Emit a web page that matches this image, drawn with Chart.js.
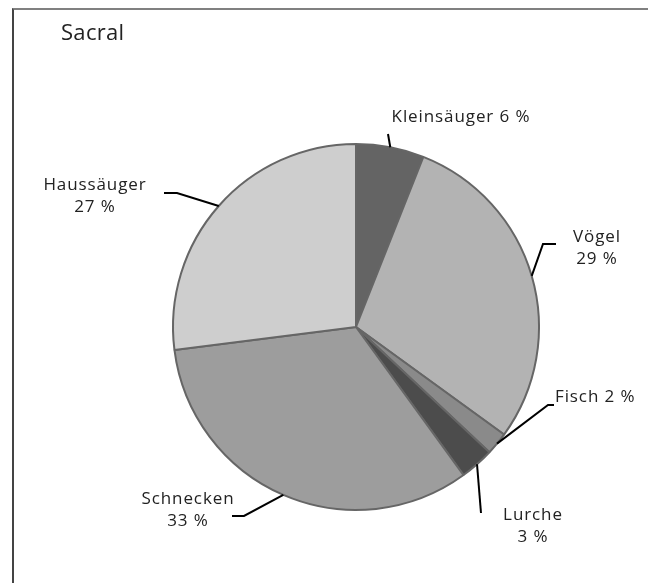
<!DOCTYPE html>
<html>
<head>
<meta charset="utf-8">
<script src="https://cdn.jsdelivr.net/npm/chart.js@4"></script>
<style>
  html, body { margin: 0; padding: 0; background: #fff; }
  #wrap { position: relative; width: 648px; height: 583px; }
  #frame { position: absolute; left: 12px; top: 8px; right: 0; bottom: 0;
           border-left: 2px solid #444; border-top: 2px solid #808080; }
  canvas { position: absolute; left: 0; top: 0; }
</style>
</head>
<body>
<div id="wrap">
  <div id="frame"></div>
  <canvas id="chart" width="648" height="583"></canvas>
</div>
<script>
// Data
const title = 'Sacral';
const categories = ['Kleinsäuger', 'Vögel', 'Fisch', 'Lurche', 'Schnecken', 'Haussäuger'];
const shares = [6, 29, 2, 3, 33, 27];
const colors = ['#646464', '#b3b3b3', '#8a8a8a', '#4c4c4c', '#9d9d9d', '#cecece'];

// Label layout: elbow point, end of leader, text anchor
const labelLayout = [
  { elbow: null, end: [388, 134], text: [461, 117], align: 'center', oneLine: true },
  { elbow: [543, 244], end: [556, 244], text: [597, 237], align: 'center' },
  { elbow: [548, 405], end: [554, 405], text: [555, 397], align: 'left', oneLine: true },
  { elbow: null, end: [481, 513], text: [533, 515], align: 'center' },
  { elbow: [244, 516], end: [232, 516], text: [188, 499], align: 'center' },
  { elbow: [177, 193], end: [164, 193], text: [95, 185], align: 'center' }
];

const labelPlugin = {
  id: 'pieLabels',
  afterDraw(chart) {
    const ctx = chart.ctx;
    const meta = chart.getDatasetMeta(0);
    ctx.save();

    // title
    ctx.fillStyle = '#222';
    ctx.font = '22px "Open Sans", sans-serif';
    ctx.letterSpacing = '0.3px';
    ctx.textAlign = 'left';
    ctx.textBaseline = 'middle';
    ctx.fillText(title, 61, 34);

    meta.data.forEach((arc, i) => {
      const mid = (arc.startAngle + arc.endAngle) / 2;
      const x0 = arc.x + Math.cos(mid) * arc.outerRadius;
      const y0 = arc.y + Math.sin(mid) * arc.outerRadius;
      const lay = labelLayout[i];

      ctx.strokeStyle = '#000';
      ctx.lineWidth = 2;
      ctx.beginPath();
      ctx.moveTo(x0, y0);
      if (lay.elbow) ctx.lineTo(lay.elbow[0], lay.elbow[1]);
      ctx.lineTo(lay.end[0], lay.end[1]);
      ctx.stroke();

      ctx.fillStyle = '#222';
      ctx.font = '17px "Open Sans", sans-serif';
      ctx.letterSpacing = '0.9px';
      ctx.textAlign = lay.align;
      const pct = shares[i] + ' %';
      if (lay.oneLine) {
        ctx.fillText(categories[i] + ' ' + pct, lay.text[0], lay.text[1]);
      } else {
        ctx.fillText(categories[i], lay.text[0], lay.text[1]);
        ctx.fillText(pct, lay.text[0], lay.text[1] + 22);
      }
    });
    ctx.restore();
  }
};

new Chart(document.getElementById('chart'), {
  type: 'pie',
  data: {
    labels: categories,
    datasets: [{
      data: shares,
      backgroundColor: colors,
      borderColor: '#666',
      borderWidth: 2
    }]
  },
  options: {
    responsive: false,
    animation: false,
    layout: { padding: { left: 172, right: 108, top: 143, bottom: 72 } },
    plugins: {
      legend: { display: false },
      tooltip: { enabled: false }
    }
  },
  plugins: [labelPlugin]
});
</script>
</body>
</html>
